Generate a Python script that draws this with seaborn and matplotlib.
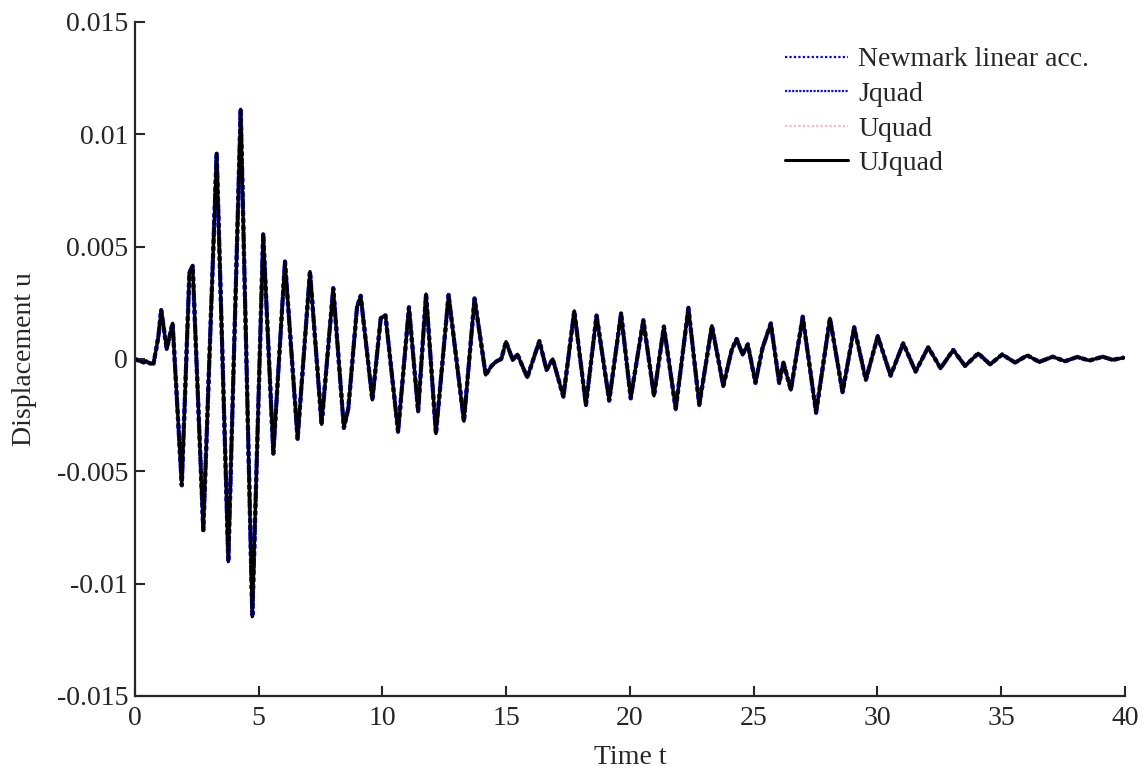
import numpy as np
import pandas as pd
import matplotlib
matplotlib.use('Agg')
import matplotlib.pyplot as plt
import seaborn as sns

# Peaks, troughs and shoulders of the displacement history
time_t = [0.0, 0.2, 0.35, 0.45, 0.6, 0.75, 0.94, 1.06, 1.28, 1.52,
          1.89, 2.2, 2.33, 2.76, 3.30, 3.77, 4.27, 4.74, 5.18, 5.59,
          6.06, 6.57, 7.07, 7.54, 8.01, 8.44, 8.62, 8.97, 9.12, 9.59,
          9.93, 10.12, 10.63, 11.07, 11.44, 11.76, 12.16, 12.67, 13.29, 13.72,
          14.17, 14.41, 14.61, 14.8, 14.99, 15.26, 15.45, 15.85, 16.34, 16.63,
          16.88, 17.31, 17.75, 18.22, 18.65, 19.16, 19.64, 20.03, 20.54, 20.97,
          21.37, 21.85, 22.36, 22.8, 23.31, 23.77, 24.11, 24.31, 24.55, 24.76,
          25.07, 25.35, 25.69, 26.03, 26.2, 26.5, 26.98, 27.52, 28.08, 28.59,
          29.06, 29.53, 30.01, 30.53, 31.04, 31.54, 32.05, 32.55, 33.06, 33.54,
          34.07, 34.55, 35.04, 35.56, 36.05, 36.54, 37.08, 37.58, 38.07, 38.56,
          39.1, 39.5, 39.96]

disp_u = [0.0, -0.0001, -0.00015, -0.0001, -0.0002, -0.0002, 0.00096, 0.00218, 0.00045, 0.00159,
          -0.00562, 0.00385, 0.00415, -0.00762, 0.00914, -0.00902, 0.01111, -0.01147, 0.00555, -0.00421,
          0.00434, -0.00355, 0.00389, -0.00291, 0.00315, -0.00307, -0.0022, 0.0023, 0.00281, -0.00182,
          0.00182, 0.00194, -0.00324, 0.0023, -0.00233, 0.00289, -0.00332, 0.00285, -0.00277, 0.0027,
          -0.00071, -0.0003, -0.0001, 0.0, 0.00077, -0.00004, 0.00021, -0.00082, 0.0008, -0.00049,
          0.0, -0.00168, 0.00214, -0.00205, 0.00194, -0.00185, 0.00203, -0.00175, 0.00173, -0.00164,
          0.00144, -0.00223, 0.00228, -0.00205, 0.00148, -0.0012, 0.0004, 0.00089, 0.0002, 0.00065,
          -0.00106, 0.00047, 0.00158, -0.00107, -0.00016, -0.00138, 0.00188, -0.00239, 0.00181, -0.00148,
          0.00141, -0.00093, 0.00102, -0.00074, 0.0007, -0.00056, 0.00052, -0.00041, 0.0004, -0.00031,
          0.00025, -0.00024, 0.0002, -0.00016, 0.00016, -0.00013, 0.0001, -0.0001, 0.00009, -0.00007,
          0.0001, -0.00004, 0.00006]

methods = ['Newmark linear acc.', 'Jquad', 'Uquad', 'UJquad']
x_ticks = [0, 5, 10, 15, 20, 25, 30, 35, 40]
y_ticks = [-0.015, -0.01, -0.005, 0, 0.005, 0.01, 0.015]

# all four schemes give the same curve in the picture
df = pd.DataFrame({'t': time_t, 'u': disp_u})

sns.set_style('ticks')
plt.rcParams['font.family'] = ['Liberation Serif', 'DejaVu Serif']
plt.rcParams['axes.unicode_minus'] = False

fig = plt.figure(figsize=(11.45, 7.71), dpi=100)
ax = fig.add_axes([0.1179, 0.0973, 0.8646, 0.8742])

styles = {
    'Newmark linear acc.': dict(color='#0000ff', linestyle=(0, (1, 1)), linewidth=3.0),
    'Jquad': dict(color='#1010e0', linestyle=(0, (1, 0.6)), linewidth=3.0),
    'Uquad': dict(color='#ffb6c8', linestyle=(0, (1, 1)), linewidth=1.4),
    'UJquad': dict(color='black', linestyle='-', linewidth=2.4),
}
for m in methods:
    sns.lineplot(data=df, x='t', y='u', ax=ax, label=m, sort=False,
                 estimator=None, **styles[m])

ax.set_xlim(0, 40)
ax.set_ylim(-0.015, 0.015)
ax.set_xticks(x_ticks)
ax.set_yticks(y_ticks)
ax.set_xticklabels([str(v) for v in x_ticks])
ax.set_yticklabels(['{:g}'.format(v) for v in y_ticks])
ax.tick_params(direction='in', length=7, width=1.5, labelsize=20)
ax.tick_params(axis='x', pad=7)
ax.tick_params(axis='y', pad=5)
for side in ['top', 'right']:
    ax.spines[side].set_visible(False)
for side in ['left', 'bottom']:
    ax.spines[side].set_linewidth(1.6)

ax.set_xlabel('Time t', fontsize=20, labelpad=10)
ax.set_ylabel('Displacement u', fontsize=20, labelpad=14)

leg = ax.legend(loc='upper left', bbox_to_anchor=(0.657, 0.963), frameon=False,
                fontsize=20, handlelength=2.27, handletextpad=0.36, labelspacing=0.33,
                borderaxespad=0, borderpad=0)
for line in leg.get_lines():
    line.set_linewidth(1.6)
leg.get_lines()[3].set_linewidth(2.2)

fig.savefig('out.png', dpi=100)
